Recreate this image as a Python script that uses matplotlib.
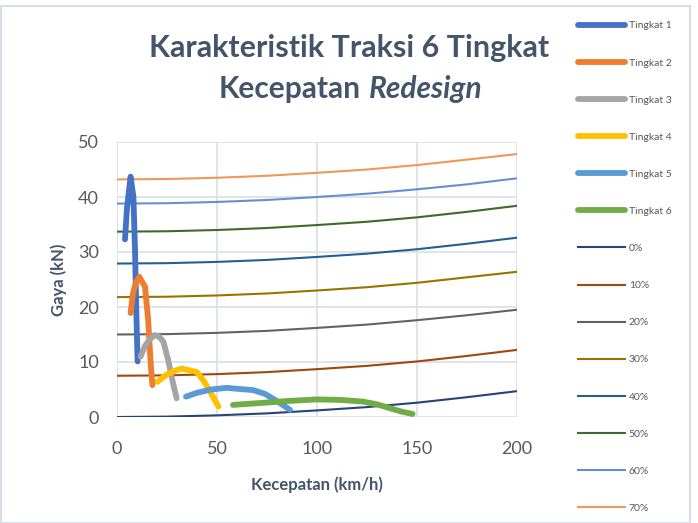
import matplotlib
matplotlib.use("Agg")
import matplotlib.pyplot as plt
from matplotlib.patches import Rectangle

# Gear traction curves (speed km/h, force kN)
t1_v = [4.0, 5.0, 6.8, 8.2, 9.0, 9.6, 10.3]
t1_f = [32.3, 38.0, 43.7, 40.0, 30.4, 20.0, 10.1]
t2_v = [6.8, 8.0, 9.5, 11.2, 12.5, 14.0, 15.5, 16.8, 17.7]
t2_f = [18.9, 22.5, 24.5, 25.5, 24.6, 23.7, 18.0, 10.0, 5.8]
t3_v = [11.8, 14.0, 16.5, 19.0, 21.0, 23.2, 25.5, 27.8, 29.8]
t3_f = [11.0, 12.9, 14.2, 14.9, 14.6, 13.7, 10.5, 6.5, 3.4]
t4_v = [20.2, 24.0, 28.0, 32.3, 36.0, 39.8, 43.5, 47.5, 50.7]
t4_f = [6.4, 7.5, 8.3, 8.8, 8.5, 8.2, 6.5, 4.0, 1.9]
t5_v = [34.5, 40.0, 47.0, 54.8, 61.0, 68.0, 74.0, 80.0, 86.5]
t5_f = [3.7, 4.4, 5.0, 5.3, 5.1, 4.9, 4.2, 2.9, 1.3]
t6_v = [58.0, 70.0, 85.0, 100.0, 112.0, 123.0, 130.0, 136.5, 142.0, 147.8]
t6_f = [2.2, 2.5, 2.9, 3.2, 3.1, 2.8, 2.3, 1.6, 1.0, 0.55]
gear_labels = ["Tingkat 1", "Tingkat 2", "Tingkat 3", "Tingkat 4", "Tingkat 5", "Tingkat 6"]
gear_colors = ["#4472C4", "#ED7D31", "#A5A5A5", "#FFC000", "#5B9BD5", "#70AD47"]

# Road resistance curves for grades
res_v = [0, 25, 50, 75, 100, 125, 150, 175, 200]
r0 = [0.0, 0.07, 0.3, 0.66, 1.2, 1.8, 2.6, 3.6, 4.7]
r10 = [7.5, 7.57, 7.8, 8.16, 8.7, 9.3, 10.1, 11.1, 12.2]
r20 = [15.0, 15.07, 15.3, 15.66, 16.2, 16.8, 17.6, 18.5, 19.5]
r30 = [21.8, 21.87, 22.1, 22.46, 23.0, 23.6, 24.4, 25.4, 26.4]
r40 = [27.9, 27.97, 28.2, 28.56, 29.1, 29.7, 30.5, 31.5, 32.6]
r50 = [33.7, 33.77, 34.0, 34.36, 34.9, 35.5, 36.3, 37.3, 38.4]
r60 = [38.8, 38.87, 39.1, 39.46, 40.0, 40.6, 41.4, 42.3, 43.4]
r70 = [43.2, 43.27, 43.5, 43.86, 44.4, 45.0, 45.8, 46.8, 47.8]
res_labels = ["0%", "10%", "20%", "30%", "40%", "50%", "60%", "70%"]
res_colors = ["#264478", "#9E480E", "#636363", "#997300", "#255E91", "#43682B", "#698ED0", "#F1975A"]

x_ticks = [0, 50, 100, 150, 200]
y_ticks = [0, 10, 20, 30, 40, 50]

plt.rcParams['font.family'] = ['Lato', 'DejaVu Sans']

fig = plt.figure(figsize=(6.98, 5.23), dpi=100)
ax = fig.add_axes([117/698, 1-417/523, 400/698, 275/523])

gears = [(t1_v, t1_f), (t2_v, t2_f), (t3_v, t3_f), (t4_v, t4_f), (t5_v, t5_f), (t6_v, t6_f)]
handles = []
for (v, f), lab, c in zip(gears, gear_labels, gear_colors):
    h, = ax.plot(v, f, color=c, lw=4.2, solid_capstyle='round', solid_joinstyle='round', label=lab, zorder=3)
    handles.append(h)
for r, lab, c in zip([r0, r10, r20, r30, r40, r50, r60, r70], res_labels, res_colors):
    h, = ax.plot(res_v, r, color=c, lw=1.5, label=lab, zorder=2)
    handles.append(h)

ax.set_xlim(0, 200)
ax.set_ylim(0, 50)
ax.set_xticks(x_ticks)
ax.set_yticks(y_ticks)
ax.grid(True, color="#DCE0E8", lw=1.3, zorder=0)
ax.set_axisbelow(True)
for s in ax.spines.values():
    s.set_visible(False)
ax.tick_params(length=0, labelsize=13, colors="#595959")
ax.tick_params(axis='x', pad=17)
ax.tick_params(axis='y', pad=13)
ax.set_xlabel("Kecepatan (km/h)", fontsize=12, fontweight='bold', color="#44546A", labelpad=14)
ax.set_ylabel("Gaya (kN)", fontsize=12, fontweight='bold', color="#44546A", labelpad=8)

fig.text(349/698, 1-48/523, "Karakteristik Traksi 6 Tingkat", ha='center', va='center',
         fontsize=22, fontweight='bold', color="#44546A")
fig.text(361/698, 1-89/523, "Kecepatan", ha='right', va='center',
         fontsize=21.5, fontweight='bold', color="#44546A")
fig.text(369/698, 1-89/523, "Redesign", ha='left', va='center',
         fontsize=21.5, fontweight='bold', fontstyle='italic', color="#44546A")

leg = fig.legend(handles=handles, loc='upper left', bbox_to_anchor=(574/698, 1-17/523),
                 frameon=False, fontsize=7.5, handlelength=4.5, handletextpad=0.35,
                 labelspacing=2.67, borderaxespad=0)
for t in leg.get_texts():
    t.set_color("#595959")

fig.add_artist(Rectangle((1/698, 0), 689/698, 1-6/523, transform=fig.transFigure,
                         fill=False, edgecolor="#D9DDE6", lw=1.5))

fig.savefig("out.png", dpi=100)
